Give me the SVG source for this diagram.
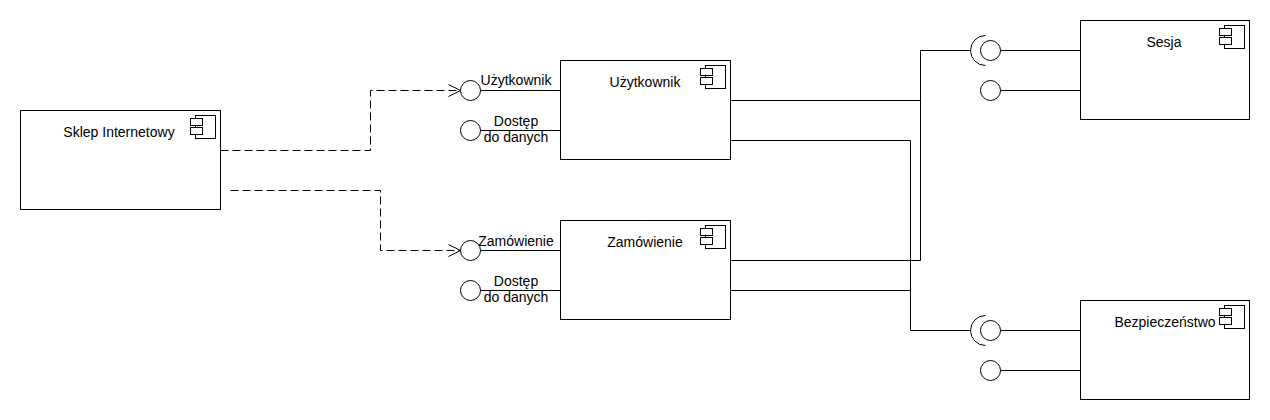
<svg xmlns="http://www.w3.org/2000/svg" xmlns:xlink="http://www.w3.org/1999/xlink" width="1270" height="420" viewBox="0 0 1270 420">
<style>
  .box { fill: #ffffff; stroke: #000000; stroke-width: 1; }
  .ico { fill: #ffffff; stroke: #000000; stroke-width: 1; }
  .lbl { font-family: "Liberation Sans", Arial, sans-serif; font-size: 14px; fill: #000000; }
  .mid { text-anchor: middle; }
  .ln { fill: none; stroke: #000000; stroke-width: 1; }
  .dash { fill: none; stroke: #000000; stroke-width: 1; stroke-dasharray: 8 4; }
  .iface { fill: #ffffff; stroke: #000000; stroke-width: 1; }
</style>
<defs>
  <g id="icon">
    <rect class="ico" x="-24.5" y="5.5" width="20" height="23"/>
    <rect class="ico" x="-29.5" y="8.5" width="12" height="7"/>
    <rect class="ico" x="-29.5" y="17.5" width="12" height="7"/>
  </g>
</defs>
<rect x="0" y="0" width="1270" height="420" fill="#ffffff"/>

<g id="connectors">
  <path class="dash" d="M220.5 150.5 H370.5 V90.5 H460"/>
  <path class="ln" d="M448.5 84.5 L460.5 90.5 L448.5 96.5"/>
  <path class="dash" d="M230.5 190.5 H380.5 V250.5 H460"/>
  <path class="ln" d="M448.5 244.5 L460.5 250.5 L448.5 256.5"/>
  <path class="ln" d="M480.5 90.5 H560.5"/>
  <path class="ln" d="M480.5 130.5 H560.5"/>
  <path class="ln" d="M480.5 250.5 H560.5"/>
  <path class="ln" d="M480.5 290.5 H560.5"/>
  <path class="ln" d="M730.5 100.5 H920.5 V50.5 H970.5"/>
  <path class="ln" d="M730.5 260.5 H920.5 V100.5"/>
  <path class="ln" d="M730.5 140.5 H910.5 V330.5 H970.5"/>
  <path class="ln" d="M730.5 290.5 H910.5"/>
  <path class="ln" d="M1000.5 50.5 H1080.5"/>
  <path class="ln" d="M1000.5 90.5 H1080.5"/>
  <path class="ln" d="M1000.5 330.5 H1080.5"/>
  <path class="ln" d="M1000.5 370.5 H1080.5"/>
</g>

<g id="sklep">
  <rect class="box" x="20.5" y="110.5" width="200" height="99"/>
  <use xlink:href="#icon" href="#icon" x="220" y="110"/>
  <text class="lbl mid" x="119" y="137">Sklep Internetowy</text>
</g>

<g id="uzytkownik">
  <rect class="box" x="560.5" y="60.5" width="170" height="99"/>
  <use xlink:href="#icon" href="#icon" x="730" y="60"/>
  <text class="lbl mid" x="645" y="87">Użytkownik</text>
</g>

<g id="zamowienie">
  <rect class="box" x="560.5" y="220.5" width="170" height="99"/>
  <use xlink:href="#icon" href="#icon" x="730" y="220"/>
  <text class="lbl mid" x="645" y="247">Zamówienie</text>
</g>

<g id="sesja">
  <rect class="box" x="1080.5" y="20.5" width="169" height="99"/>
  <use xlink:href="#icon" href="#icon" x="1249" y="20"/>
  <text class="lbl mid" x="1164" y="47">Sesja</text>
</g>

<g id="bezpieczenstwo">
  <rect class="box" x="1080.5" y="300.5" width="169" height="99"/>
  <use xlink:href="#icon" href="#icon" x="1249" y="300"/>
  <text class="lbl mid" x="1165" y="327">Bezpieczeństwo</text>
</g>

<g id="if-uzytkownik">
  <circle class="iface" cx="470.5" cy="90.5" r="10"/>
  <text class="lbl mid" x="516" y="85">Użytkownik</text>
</g>
<g id="if-dostep-1">
  <circle class="iface" cx="470.5" cy="130.5" r="10"/>
  <text class="lbl mid" x="516" y="126">Dostęp</text>
  <text class="lbl mid" x="516" y="142">do danych</text>
</g>
<g id="if-zamowienie">
  <circle class="iface" cx="470.5" cy="250.5" r="10"/>
  <text class="lbl mid" x="516" y="246">Zamówienie</text>
</g>
<g id="if-dostep-2">
  <circle class="iface" cx="470.5" cy="290.5" r="10"/>
  <text class="lbl mid" x="516" y="286">Dostęp</text>
  <text class="lbl mid" x="516" y="302">do danych</text>
</g>

<g id="if-sesja-1">
  <path class="ln" d="M985.5 35.5 A15 15 0 0 0 985.5 65.5"/>
  <circle class="iface" cx="990.5" cy="50.5" r="10"/>
</g>
<g id="if-sesja-2">
  <circle class="iface" cx="990.5" cy="90.5" r="10"/>
</g>
<g id="if-bezp-1">
  <path class="ln" d="M985.5 315.5 A15 15 0 0 0 985.5 345.5"/>
  <circle class="iface" cx="990.5" cy="330.5" r="10"/>
</g>
<g id="if-bezp-2">
  <circle class="iface" cx="990.5" cy="370.5" r="10"/>
</g>
</svg>
